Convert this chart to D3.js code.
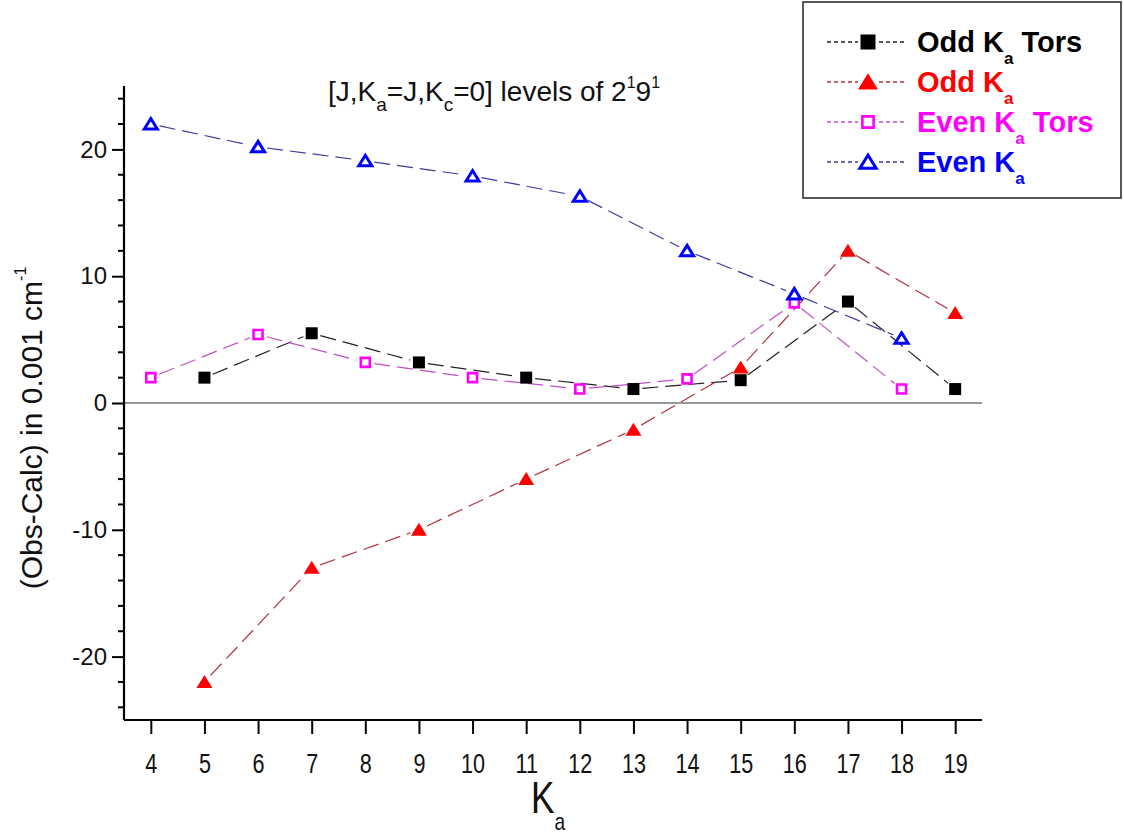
<!DOCTYPE html>
<html>
<head>
<meta charset="utf-8">
<script src="https://cdn.jsdelivr.net/npm/d3@7"></script>
<style>
  html, body { margin: 0; padding: 0; background: #fff; }
  svg { display: block; font-family: Arial, "Liberation Sans", sans-serif; }
</style>
</head>
<body>
<svg id="chart" width="1124" height="837"></svg>
<script>
// K_a values for odd and even series
const kaOdd = [5, 7, 9, 11, 13, 15, 17, 19];
const kaEven = [4, 6, 8, 10, 12, 14, 16, 18];

// (Obs-Calc) residuals in 0.001 cm^-1
const oddTors = [2.0, 5.5, 3.2, 2.0, 1.1, 1.8, 8.0, 1.1];
const oddKa = [-22.0, -13.0, -10.0, -6.0, -2.1, 2.8, 12.0, 7.1];
const evenTors = [2.0, 5.4, 3.2, 2.0, 1.1, 1.9, 7.9, 1.1];
const evenKa = [22.0, 20.2, 19.1, 17.9, 16.3, 12.0, 8.6, 5.1];

const xTicks = [4, 5, 6, 7, 8, 9, 10, 11, 12, 13, 14, 15, 16, 17, 18, 19];
const yTicks = [-20, -10, 0, 10, 20];
const yMinorTicks = [-24, -22, -18, -16, -14, -12, -8, -6, -4, -2, 2, 4, 6, 8, 12, 14, 16, 18, 22, 24];

const series = [
  { name: "Odd K", tail: " Tors", ka: kaOdd, vals: oddTors, marker: "square", fill: "#000", stroke: "#000", line: "#222", text: "#000" },
  { name: "Odd K", tail: "", ka: kaOdd, vals: oddKa, marker: "triangle", fill: "#ff0000", stroke: "#ff0000", line: "#b0303c", text: "#ff0000" },
  { name: "Even K", tail: " Tors", ka: kaEven, vals: evenTors, marker: "osquare", fill: "#fff", stroke: "#ff00ff", line: "#c050c8", text: "#ff00ff" },
  { name: "Even K", tail: "", ka: kaEven, vals: evenKa, marker: "otriangle", fill: "#fff", stroke: "#0000ff", line: "#3a3a9c", text: "#0000ff" }
];

const svg = d3.select("#chart");
const x = d3.scaleLinear().domain([3.5, 19.5]).range([124, 982]);
const y = d3.scaleLinear().domain([-25, 25]).range([720, 86]);

// integer labels with a plain hyphen for negatives
const intFmt = d => String(d);

// marker shapes, centred on their bounding box
function markerPath(type, k = 1) {
  if (type === "square") return `M${-6 * k},${-6 * k}H${6 * k}V${6 * k}H${-6 * k}Z`;
  if (type === "osquare") return `M${-4.5 * k},${-4.5 * k}H${4.5 * k}V${4.5 * k}H${-4.5 * k}Z`;
  if (type === "triangle") return `M0,${-7 * k}L${8 * k},${6 * k}L${-8 * k},${6 * k}Z`;
  return `M0,${-5.5 * k}L${6.5 * k},${5 * k}L${-6.5 * k},${5 * k}Z`;
}
function markerStrokeWidth(type) {
  if (type === "osquare") return 2.6;
  if (type === "otriangle") return 3;
  return 0;
}

// zero line
svg.append("line")
  .attr("x1", x(3.5)).attr("x2", x(19.5))
  .attr("y1", y(0)).attr("y2", y(0))
  .attr("stroke", "#333").attr("stroke-width", 1.2);

// connecting lines, broken around each marker
const gap = 9;
series.forEach(s => {
  const pts = s.ka.map((k, i) => [x(k), y(s.vals[i])]);
  const g = svg.append("g");
  for (let i = 0; i < pts.length - 1; i++) {
    const [x1, y1] = pts[i], [x2, y2] = pts[i + 1];
    const len = Math.hypot(x2 - x1, y2 - y1);
    if (len <= 2 * gap) continue;
    const ux = (x2 - x1) / len, uy = (y2 - y1) / len;
    g.append("line")
      .attr("x1", x1 + ux * gap).attr("y1", y1 + uy * gap)
      .attr("x2", x2 - ux * gap).attr("y2", y2 - uy * gap)
      .attr("stroke", s.line).attr("stroke-width", 1.2)
      .attr("stroke-dasharray", "16,7");
  }
});

// markers
series.forEach(s => {
  svg.append("g").selectAll("path")
    .data(s.ka.map((k, i) => [k, s.vals[i]]))
    .join("path")
    .attr("transform", d => `translate(${x(d[0])},${y(d[1])})`)
    .attr("d", markerPath(s.marker))
    .attr("fill", s.fill)
    .attr("stroke", markerStrokeWidth(s.marker) ? s.stroke : "none")
    .attr("stroke-width", markerStrokeWidth(s.marker))
    .attr("stroke-linejoin", "miter");
});

// y axis
const yAxis = svg.append("g").attr("transform", `translate(${x(3.5)},0)`)
  .call(d3.axisLeft(y).tickValues(yTicks).tickSize(12).tickPadding(5).tickFormat(intFmt));
yAxis.select(".domain").attr("stroke-width", 2.2).attr("d", `M0,${y(25)}V${y(-25)}`);
yAxis.selectAll(".tick line").attr("stroke-width", 2);
yAxis.selectAll(".tick text").attr("font-size", 24).attr("font-family", "Arial, 'Liberation Sans', sans-serif").attr("fill", "#111");
yAxis.append("g").selectAll("line").data(yMinorTicks).join("line")
  .attr("x1", 0).attr("x2", -6).attr("y1", d => y(d)).attr("y2", d => y(d))
  .attr("stroke", "#000").attr("stroke-width", 2);

// x axis
const xAxis = svg.append("g").attr("transform", `translate(0,${y(-25)})`)
  .call(d3.axisBottom(x).tickValues(xTicks).tickSize(14).tickPadding(20).tickFormat(intFmt));
xAxis.select(".domain").attr("stroke-width", 2.2).attr("d", `M${x(3.5)},0H${x(19.5)}`);
xAxis.selectAll(".tick line").attr("stroke-width", 2);
xAxis.selectAll(".tick text")
  .attr("font-size", 27).attr("font-family", "Arial, 'Liberation Sans', sans-serif").attr("fill", "#111")
  .attr("transform", "scale(0.8,1)")
  .attr("x", 0);

// axis titles
const xt = svg.append("text").attr("transform", "translate(548,813) scale(0.8,1)")
  .attr("text-anchor", "middle").attr("font-size", 44).attr("fill", "#111");
xt.append("tspan").text("K");
xt.append("tspan").attr("font-size", 24).attr("dy", 17).text("a");

const yt = svg.append("text").attr("transform", "translate(42,428) rotate(-90)")
  .attr("text-anchor", "middle").attr("font-size", 30).attr("fill", "#111");
yt.append("tspan").text("(Obs-Calc) in 0.001 cm");
yt.append("tspan").attr("font-size", 16).attr("dy", -16).text("-1");

// title
const tt = svg.append("text").attr("x", 328).attr("y", 101).attr("font-size", 28).attr("fill", "#111");
tt.append("tspan").text("[J,K");
tt.append("tspan").attr("font-size", 19).attr("dy", 10).text("a");
tt.append("tspan").attr("dy", -10).text("=J,K");
tt.append("tspan").attr("font-size", 19).attr("dy", 10).text("c");
tt.append("tspan").attr("dy", -10).text("=0] levels of 2");
tt.append("tspan").attr("font-size", 16).attr("dy", -13).text("1");
tt.append("tspan").attr("dy", 13).text("9");
tt.append("tspan").attr("font-size", 16).attr("dy", -13).text("1");

// legend
const legend = svg.append("g");
legend.append("rect").attr("x", 803).attr("y", 2).attr("width", 318).attr("height", 196)
  .attr("fill", "#fff").attr("stroke", "#222").attr("stroke-width", 1.5);
series.forEach((s, i) => {
  const cy = 42 + i * 40;
  legend.append("line").attr("x1", 827).attr("x2", 858).attr("y1", cy).attr("y2", cy)
    .attr("stroke", s.line).attr("stroke-width", 1.3).attr("stroke-dasharray", "4,3");
  legend.append("line").attr("x1", 879).attr("x2", 907).attr("y1", cy).attr("y2", cy)
    .attr("stroke", s.line).attr("stroke-width", 1.3).attr("stroke-dasharray", "4,3");
  legend.append("path").attr("transform", `translate(868,${cy})`)
    .attr("d", markerPath(s.marker, 1.25))
    .attr("fill", s.fill)
    .attr("stroke", markerStrokeWidth(s.marker) ? s.stroke : "none")
    .attr("stroke-width", markerStrokeWidth(s.marker));
  const t = legend.append("text").attr("x", 917).attr("y", cy + 10)
    .attr("font-size", 29).attr("font-weight", "bold").attr("fill", s.text);
  t.append("tspan").text(s.name);
  t.append("tspan").attr("font-size", 17).attr("dy", 12).text("a");
  if (s.tail) t.append("tspan").attr("dy", -12).text(s.tail);
});
</script>
</body>
</html>
